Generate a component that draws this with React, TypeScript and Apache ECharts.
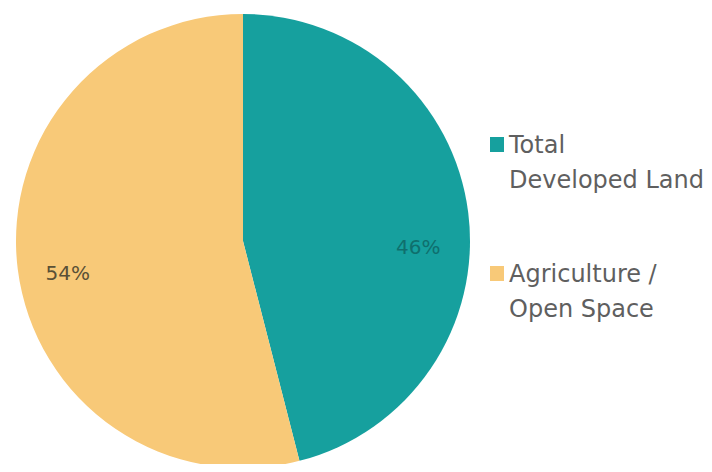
import React, { useEffect, useRef } from "react";
import * as echarts from "echarts";

const categories = ["Total\nDeveloped Land", "Agriculture /\nOpen Space"];
const shares = [46, 54];
const colors = ["#16A09E", "#F8C978"];
const labelColors = ["#0f6f6d", "#5a5036"];
const labelPrefix = ["\n\n", ""];

export default function App() {
  const ref = useRef<HTMLDivElement>(null);
  useEffect(() => {
    if (!ref.current) return;
    const chart = echarts.init(ref.current, null, { renderer: "svg" });
    const data = categories.map((name, i) => ({
      name,
      value: shares[i],
      itemStyle: { color: colors[i] },
    }));
    chart.setOption({
      animation: false,
      legend: {
        orient: "vertical",
        left: 477,
        top: 79,
        itemWidth: 14,
        itemHeight: 15,
        itemGap: 24,
        icon: "rect",
        data: categories,
        formatter: (name: string) => "\n" + name,
        textStyle: {
          fontFamily: "DejaVu Sans",
          fontSize: 24,
          color: "#5f5f5f",
          lineHeight: 35,
        },
      },
      series: [
        {
          type: "pie",
          center: [235, 233],
          radius: [0, 227],
          startAngle: 90,
          clockwise: true,
          silent: true,
          label: { show: false },
          labelLine: { show: false },
          data,
        },
        {
          type: "pie",
          center: [235, 233],
          radius: [123, 227],
          startAngle: 93,
          clockwise: true,
          silent: true,
          legendHoverLink: false,
          itemStyle: { color: "transparent" },
          label: {
            show: true,
            position: "inside",
            fontFamily: "DejaVu Sans",
            fontSize: 20,
            lineHeight: 38,
          },
          labelLine: { show: false },
          data: categories.map((name, i) => ({
            name: name + " ",
            value: shares[i],
            itemStyle: { color: "transparent" },
            label: {
              color: labelColors[i],
              formatter: labelPrefix[i] + "{c}%",
            },
          })),
        },
      ],
    });
    return () => chart.dispose();
  }, []);
  return <div ref={ref} style={{ width: 696, height: 456 }} />;
}
